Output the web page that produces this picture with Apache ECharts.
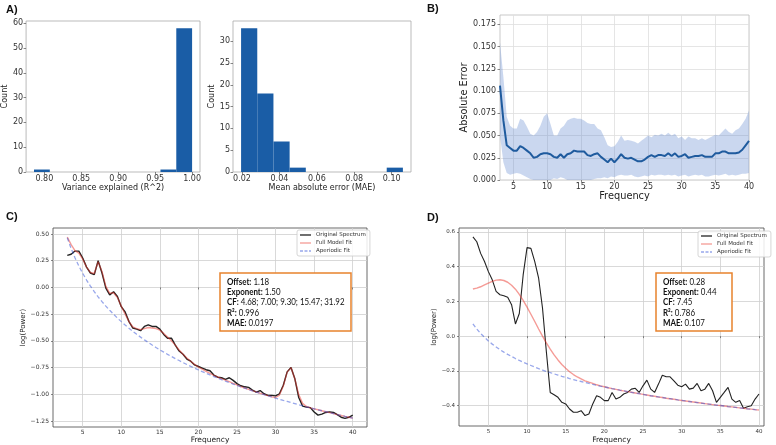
<!DOCTYPE html>
<html><head><meta charset="utf-8">
<script src="https://cdn.jsdelivr.net/npm/echarts@6/dist/echarts.min.js"></script>
<style>html,body{margin:0;padding:0;background:#fff}#c{width:776px;height:445px}</style>
</head><body><div id="c"></div>
<script>
// ---------- Panel A : histograms ----------
const r2BinEdges = [0.786, 0.8074, 0.8288, 0.8502, 0.8716, 0.893, 0.9144, 0.9358, 0.9572, 0.9786, 1.0];
const r2Counts   = [1, 0, 0, 0, 0, 0, 0, 0, 1, 58];
const maeBinEdges = [0.0195, 0.02815, 0.0368, 0.04545, 0.0541, 0.06275, 0.0714, 0.08005, 0.0887, 0.09735, 0.106];
const maeCounts   = [33, 18, 7, 1, 0, 0, 0, 0, 0, 1];
const r2Ticks = [0.80, 0.85, 0.90, 0.95, 1.00];
const r2CountTicks = [0, 10, 20, 30, 40, 50, 60];
const maeTicks = [0.02, 0.04, 0.06, 0.08, 0.10];
const maeCountTicks = [0, 5, 10, 15, 20, 25, 30];

// ---------- shared frequency grid (Hz) ----------
const freqs = [
  3, 3.5, 4, 4.5, 5, 5.5, 6, 6.5, 7, 7.5,
  8, 8.5, 9, 9.5, 10, 10.5, 11, 11.5, 12, 12.5,
  13, 13.5, 14, 14.5, 15, 15.5, 16, 16.5, 17, 17.5,
  18, 18.5, 19, 19.5, 20, 20.5, 21, 21.5, 22, 22.5,
  23, 23.5, 24, 24.5, 25, 25.5, 26, 26.5, 27, 27.5,
  28, 28.5, 29, 29.5, 30, 30.5, 31, 31.5, 32, 32.5,
  33, 33.5, 34, 34.5, 35, 35.5, 36, 36.5, 37, 37.5,
  38, 38.5, 39, 39.5, 40];
const freqTicks = [5, 10, 15, 20, 25, 30, 35, 40];

// ---------- Panel B : absolute error ----------
const errMean = [
  0.106, 0.067, 0.039, 0.036, 0.033, 0.033, 0.038, 0.036, 0.033, 0.030,
  0.025, 0.026, 0.029, 0.030, 0.030, 0.029, 0.026, 0.025, 0.029, 0.025,
  0.029, 0.030, 0.033, 0.032, 0.032, 0.032, 0.028, 0.027, 0.029, 0.030,
  0.026, 0.023, 0.020, 0.024, 0.020, 0.024, 0.029, 0.025, 0.024, 0.025,
  0.023, 0.021, 0.021, 0.023, 0.026, 0.028, 0.026, 0.028, 0.028, 0.027,
  0.030, 0.027, 0.030, 0.026, 0.027, 0.029, 0.025, 0.026, 0.027, 0.027,
  0.028, 0.026, 0.026, 0.026, 0.030, 0.030, 0.032, 0.032, 0.030, 0.030,
  0.030, 0.031, 0.034, 0.039, 0.044];
const errUpper = [
  0.155, 0.116, 0.071, 0.061, 0.058, 0.058, 0.069, 0.067, 0.060, 0.052,
  0.050, 0.054, 0.061, 0.071, 0.075, 0.063, 0.050, 0.050, 0.058, 0.061,
  0.067, 0.069, 0.070, 0.069, 0.069, 0.067, 0.064, 0.063, 0.063, 0.058,
  0.056, 0.048, 0.039, 0.037, 0.038, 0.043, 0.050, 0.044, 0.045, 0.044,
  0.043, 0.041, 0.044, 0.047, 0.050, 0.048, 0.051, 0.050, 0.052, 0.050,
  0.053, 0.050, 0.052, 0.047, 0.049, 0.045, 0.049, 0.047, 0.047, 0.045,
  0.047, 0.045, 0.047, 0.049, 0.051, 0.050, 0.054, 0.058, 0.054, 0.052,
  0.056, 0.058, 0.063, 0.069, 0.078];
const errLower = [
  0.050, 0.020, 0.008, 0.006, 0.007, 0.008, 0.007, 0.005, 0.003, 0.001,
  0.000, 0.000, 0.000, 0.000, 0.000, 0.000, 0.002, 0.001, 0.003, 0.002,
  0.000, 0.000, 0.000, 0.000, 0.000, 0.000, 0.000, 0.000, 0.001, 0.002,
  0.002, 0.003, 0.002, 0.004, 0.003, 0.005, 0.006, 0.005, 0.005, 0.006,
  0.004, 0.003, 0.004, 0.005, 0.004, 0.006, 0.005, 0.006, 0.006, 0.005,
  0.006, 0.005, 0.006, 0.004, 0.005, 0.006, 0.004, 0.005, 0.006, 0.005,
  0.006, 0.004, 0.004, 0.005, 0.006, 0.005, 0.006, 0.007, 0.005, 0.006,
  0.005, 0.006, 0.007, 0.007, 0.008];
const errTicks = [0, 0.025, 0.05, 0.075, 0.1, 0.125, 0.15, 0.175];

// ---------- Panel C : good fit ----------
const cOriginal = [
  0.300, 0.310, 0.340, 0.340, 0.275, 0.190, 0.135, 0.120, 0.250, 0.135,
  -0.006, -0.070, -0.040, -0.085, -0.180, -0.230, -0.320, -0.380, -0.390, -0.405,
  -0.365, -0.350, -0.365, -0.365, -0.390, -0.440, -0.475, -0.475, -0.540, -0.595,
  -0.625, -0.670, -0.690, -0.725, -0.740, -0.755, -0.770, -0.780, -0.820, -0.840,
  -0.845, -0.860, -0.845, -0.870, -0.900, -0.920, -0.930, -0.935, -0.960, -0.980,
  -0.965, -0.995, -1.010, -1.010, -1.015, -0.995, -0.915, -0.790, -0.750, -0.855,
  -1.030, -1.110, -1.120, -1.125, -1.165, -1.195, -1.185, -1.170, -1.165, -1.170,
  -1.190, -1.215, -1.225, -1.215, -1.195];
const cFullFit = [
  0.470, 0.400, 0.345, 0.320, 0.265, 0.190, 0.140, 0.130, 0.240, 0.150,
  0.010, -0.055, -0.050, -0.095, -0.175, -0.250, -0.320, -0.370, -0.385, -0.395,
  -0.385, -0.375, -0.380, -0.385, -0.400, -0.430, -0.465, -0.500, -0.540, -0.585,
  -0.625, -0.660, -0.690, -0.720, -0.745, -0.765, -0.785, -0.805, -0.822, -0.838,
  -0.853, -0.868, -0.882, -0.897, -0.911, -0.928, -0.941, -0.954, -0.966, -0.978,
  -0.990, -1.001, -1.013, -1.024, -1.030, -1.007, -0.923, -0.793, -0.750, -0.857,
  -1.003, -1.085, -1.114, -1.127, -1.136, -1.145, -1.154, -1.163, -1.172, -1.181,
  -1.190, -1.198, -1.207, -1.215, -1.223];
const cAperiodic = [
  0.464, 0.364, 0.277, 0.200, 0.132, 0.069, 0.013, -0.039, -0.088, -0.133,
  -0.175, -0.214, -0.251, -0.287, -0.320, -0.352, -0.382, -0.411, -0.439, -0.465,
  -0.491, -0.515, -0.539, -0.562, -0.584, -0.605, -0.626, -0.646, -0.666, -0.684,
  -0.703, -0.721, -0.738, -0.755, -0.772, -0.788, -0.803, -0.819, -0.834, -0.848,
  -0.863, -0.877, -0.890, -0.904, -0.917, -0.930, -0.942, -0.955, -0.967, -0.979,
  -0.991, -1.002, -1.014, -1.025, -1.036, -1.046, -1.057, -1.067, -1.078, -1.088,
  -1.098, -1.108, -1.117, -1.127, -1.136, -1.145, -1.154, -1.163, -1.172, -1.181,
  -1.190, -1.198, -1.207, -1.215, -1.223];
const cPowerTicks = [-1.25, -1.0, -0.75, -0.5, -0.25, 0, 0.25, 0.5];
const cInfo = [['Offset:', ' 1.18'], ['Exponent:', ' 1.50'], ['CF:', ' 4.68; 7.00; 9.30; 15.47; 31.92'], ['R\u00b2:', ' 0.996'], ['MAE:', ' 0.0197']];

// ---------- Panel D : poor fit ----------
const dOriginal = [
  0.571, 0.543, 0.476, 0.429, 0.371, 0.324, 0.257, 0.238, 0.232, 0.223,
  0.181, 0.070, 0.130, 0.352, 0.509, 0.505, 0.429, 0.333, 0.162, -0.090,
  -0.324, -0.337, -0.352, -0.381, -0.390, -0.419, -0.438, -0.438, -0.429, -0.457,
  -0.448, -0.390, -0.343, -0.352, -0.371, -0.371, -0.324, -0.362, -0.352, -0.333,
  -0.324, -0.305, -0.300, -0.324, -0.286, -0.253, -0.305, -0.324, -0.276, -0.225,
  -0.234, -0.234, -0.257, -0.282, -0.291, -0.276, -0.305, -0.299, -0.272, -0.314,
  -0.305, -0.272, -0.314, -0.381, -0.352, -0.324, -0.295, -0.362, -0.381, -0.371,
  -0.415, -0.406, -0.400, -0.362, -0.333];
const dFullFit = [
  0.271, 0.276, 0.284, 0.295, 0.305, 0.315, 0.322, 0.324, 0.320, 0.310,
  0.293, 0.270, 0.240, 0.206, 0.167, 0.126, 0.084, 0.041, 0.000, -0.039,
  -0.075, -0.108, -0.137, -0.163, -0.185, -0.205, -0.221, -0.235, -0.246, -0.257,
  -0.265, -0.272, -0.280, -0.286, -0.291, -0.297, -0.302, -0.306, -0.311, -0.315,
  -0.319, -0.323, -0.327, -0.331, -0.335, -0.339, -0.343, -0.346, -0.350, -0.353,
  -0.357, -0.360, -0.363, -0.367, -0.370, -0.373, -0.376, -0.379, -0.382, -0.385,
  -0.388, -0.391, -0.394, -0.397, -0.399, -0.402, -0.405, -0.407, -0.410, -0.413,
  -0.415, -0.418, -0.420, -0.423, -0.425];
const dAperiodic = [
  0.070, 0.041, 0.015, -0.007, -0.028, -0.046, -0.062, -0.078, -0.092, -0.105,
  -0.117, -0.129, -0.140, -0.150, -0.160, -0.169, -0.178, -0.187, -0.195, -0.203,
  -0.210, -0.217, -0.224, -0.231, -0.237, -0.244, -0.250, -0.256, -0.261, -0.267,
  -0.272, -0.278, -0.283, -0.288, -0.292, -0.297, -0.302, -0.306, -0.311, -0.315,
  -0.319, -0.323, -0.327, -0.331, -0.335, -0.339, -0.343, -0.346, -0.350, -0.353,
  -0.357, -0.360, -0.363, -0.367, -0.370, -0.373, -0.376, -0.379, -0.382, -0.385,
  -0.388, -0.391, -0.394, -0.397, -0.399, -0.402, -0.405, -0.407, -0.410, -0.413,
  -0.415, -0.418, -0.420, -0.423, -0.425];
const dPowerTicks = [-0.4, -0.2, 0, 0.2, 0.4, 0.6];
const dInfo = [['Offset:', ' 0.28'], ['Exponent:', ' 0.44'], ['CF:', ' 7.45'], ['R\u00b2:', ' 0.786'], ['MAE:', ' 0.107']];

const legendNames = ['Original Spectrum', 'Full Model Fit', 'Aperiodic Fit'];

// ---------- styling helpers ----------
const FONT = 'DejaVu Sans';
const BAR = '#1a5da6';
const ORIG_C = '#222';
const FIT_C = 'rgba(235,55,45,0.5)';
const AP_C = 'rgba(50,80,215,0.5)';
const SOLID_ICON = 'path://M0,0H11V1.3H0Z';
const DASH_ICON = 'path://M0,0H3V1.3H0Z M4.5,0H7.5V1.3H4.5Z M9,0H11V1.3H9Z';
const fmtSigned = d => v => (v < -1e-9 ? '\u2212' : '') + Math.abs(v).toFixed(d);
const pairs = (xs, ys) => xs.map((x, i) => [x, ys[i]]);

function axis(o) {
  return {
    type: 'value', gridIndex: o.grid, min: o.min, max: o.max,
    name: o.name, nameLocation: 'middle', nameGap: o.nameGap,
    nameTextStyle: {fontFamily: FONT, fontSize: o.nameSize, color: '#222'},
    axisLine: {show: false},
    axisTick: {show: true, customValues: o.ticks, length: o.tickLen || 2.5, inside: false,
               lineStyle: {color: o.tickColor || '#555', width: 0.7}},
    axisLabel: {show: true, customValues: o.ticks, formatter: o.fmt, margin: o.margin,
                fontFamily: FONT, fontSize: o.size, color: '#333'},
    splitLine: {show: !!o.split, lineStyle: {color: o.splitColor || '#ddd', width: 0.8}}
  };
}
function hist(edges, counts, idx) {
  return {
    type: 'custom', xAxisIndex: idx, yAxisIndex: idx, silent: true,
    data: counts.map((c, i) => [edges[i], edges[i + 1], c]),
    encode: {x: [0, 1], y: 2},
    renderItem: (params, api) => {
      const p0 = api.coord([api.value(0), api.value(2)]);
      const p1 = api.coord([api.value(1), 0]);
      return {type: 'rect', shape: {x: p0[0], y: p0[1], width: p1[0] - p0[0], height: p1[1] - p0[1]},
              style: {fill: BAR}};
    }
  };
}
function bandSeries() {
  return {
    type: 'custom', xAxisIndex: 2, yAxisIndex: 2, silent: true, z: 1,
    data: freqs.map((f, i) => [f, errLower[i], errUpper[i]]),
    encode: {x: 0, y: [1, 2]},
    renderItem: (params, api) => {
      if (params.dataIndex !== 0) return null;
      const pts = [];
      for (let i = 0; i < freqs.length; i++) pts.push(api.coord([freqs[i], errUpper[i]]));
      for (let i = freqs.length - 1; i >= 0; i--) pts.push(api.coord([freqs[i], errLower[i]]));
      return {type: 'polygon', shape: {points: pts}, style: {fill: 'rgba(95,135,205,0.33)'}};
    }
  };
}
function specLines(idx, orig, fit, ap, origWidth) {
  return [
    {name: 'Original Spectrum', type: 'line', xAxisIndex: idx, yAxisIndex: idx, symbol: 'none',
     data: pairs(freqs, orig), lineStyle: {color: ORIG_C, width: origWidth}, itemStyle: {color: ORIG_C}},
    {name: 'Full Model Fit', type: 'line', xAxisIndex: idx, yAxisIndex: idx, symbol: 'none',
     data: pairs(freqs, fit), lineStyle: {color: FIT_C, width: 1.4}, itemStyle: {color: FIT_C}},
    {name: 'Aperiodic Fit', type: 'line', xAxisIndex: idx, yAxisIndex: idx, symbol: 'none',
     data: pairs(freqs, ap), lineStyle: {color: AP_C, width: 1.3, type: [4, 2.5]}, itemStyle: {color: AP_C}}
  ];
}
function infoBox(x, y, w, h, info) {
  const text = info.map(r => '{b|' + r[0] + '}{n|' + r[1] + '}').join('\n');
  return [
    {type: 'rect', shape: {x: x, y: y, width: w, height: h}, style: {fill: '#fff', stroke: '#e8822d', lineWidth: 1.5}, z: 50},
    {type: 'text', x: x + 7, y: y + 4, scaleX: 0.9, z: 51,
     style: {text: text, fill: '#111',
       rich: {b: {fontFamily: 'Lato', fontWeight: 'bold', fontSize: 8.8, lineHeight: 10.2, fill: '#111'},
              n: {fontFamily: 'Lato', fontSize: 8.8, lineHeight: 10.2, fill: '#111'}}}}
  ];
}
function legend(left, top) {
  return {left: left, top: top, orient: 'vertical', selectedMode: false, symbolKeepAspect: false,
    data: [{name: legendNames[0], icon: SOLID_ICON}, {name: legendNames[1], icon: SOLID_ICON}, {name: legendNames[2], icon: DASH_ICON}],
    itemWidth: 11, itemHeight: 1.3, itemGap: 2, padding: [2, 4, 2, 3],
    textStyle: {fontFamily: FONT, fontSize: 5.5, color: '#333'},
    borderColor: '#ccc', borderWidth: 0.8, borderRadius: 2, backgroundColor: 'rgba(255,255,255,0.85)'};
}
const letter = (x, y, t) => ({type: 'text', x: x, y: y, style: {text: t, fontFamily: 'Liberation Sans', fontWeight: 'bold', fontSize: 11, fill: '#111'}});

const option = {
  animation: false,
  backgroundColor: '#fff',
  grid: [
    {left: 23, top: 21, width: 177, height: 151, show: true, borderColor: '#aaa', borderWidth: 0.8, backgroundColor: 'transparent'},
    {left: 233, top: 21, width: 178, height: 151, show: true, borderColor: '#aaa', borderWidth: 0.8, backgroundColor: 'transparent'},
    {left: 500, top: 15, width: 249, height: 165, show: true, borderColor: '#bbb', borderWidth: 0.8, backgroundColor: 'transparent'},
    {left: 53, top: 228, width: 314, height: 199, show: true, borderColor: '#444', borderWidth: 0.8, backgroundColor: 'transparent'},
    {left: 459, top: 228, width: 305, height: 198, show: true, borderColor: '#444', borderWidth: 0.8, backgroundColor: 'transparent'}
  ],
  xAxis: [
    axis({grid: 0, min: 0.7753, max: 1.0107, ticks: r2Ticks, fmt: v => v.toFixed(2), size: 8, margin: 3,
          name: 'Variance explained (R^2)', nameGap: 12, nameSize: 8}),
    axis({grid: 1, min: 0.01518, max: 0.11033, ticks: maeTicks, fmt: v => v.toFixed(2), size: 8, margin: 3,
          name: 'Mean absolute error (MAE)', nameGap: 12, nameSize: 8}),
    axis({grid: 2, min: 3, max: 40, ticks: freqTicks, fmt: v => String(v), size: 8, margin: 3,
          name: 'Frequency', nameGap: 10, nameSize: 9.8, split: true, splitColor: '#dedede'}),
    axis({grid: 3, min: 1.15, max: 41.85, ticks: freqTicks, fmt: v => String(v), size: 6, margin: 2,
          name: 'Frequency', nameGap: 7, nameSize: 7.5, split: true, splitColor: '#cfcfcf', tickLen: 2}),
    axis({grid: 4, min: 1.2, max: 40.65, ticks: freqTicks, fmt: v => String(v), size: 5.5, margin: 3,
          name: 'Frequency', nameGap: 7, nameSize: 7.5, split: true, splitColor: '#cfcfcf', tickLen: 2})
  ],
  yAxis: [
    axis({grid: 0, min: 0, max: 60.9, ticks: r2CountTicks, fmt: v => String(v), size: 8, margin: 3,
          name: 'Count', nameGap: 14, nameSize: 8}),
    axis({grid: 1, min: 0, max: 34.65, ticks: maeCountTicks, fmt: v => String(v), size: 8, margin: 3,
          name: 'Count', nameGap: 15, nameSize: 8}),
    axis({grid: 2, min: 0, max: 0.1855, ticks: errTicks, fmt: v => v.toFixed(3), size: 8, margin: 4,
          name: 'Absolute Error', nameGap: 29, nameSize: 9.8, split: true, splitColor: '#dedede'}),
    axis({grid: 3, min: -1.306, max: 0.556, ticks: cPowerTicks, fmt: fmtSigned(2), size: 6, margin: 4,
          name: 'log(Power)', nameGap: 21, nameSize: 7, split: true, splitColor: '#cfcfcf', tickLen: 2}),
    axis({grid: 4, min: -0.517, max: 0.622, ticks: dPowerTicks, fmt: fmtSigned(1), size: 5.5, margin: 4,
          name: 'log(Power)', nameGap: 16, nameSize: 7, split: true, splitColor: '#cfcfcf', tickLen: 2})
  ],
  legend: [legend(297, 230), legend(698, 231)],
  series: [
    hist(r2BinEdges, r2Counts, 0),
    hist(maeBinEdges, maeCounts, 1),
    bandSeries(),
    {type: 'line', xAxisIndex: 2, yAxisIndex: 2, symbol: 'none', silent: true, z: 3,
     data: pairs(freqs, errMean), lineStyle: {color: '#1f5b9e', width: 2}},
    ...specLines(3, cOriginal, cFullFit, cAperiodic, 1.4),
    ...specLines(4, dOriginal, dFullFit, dAperiodic, 1.1)
  ],
  graphic: [
    letter(6, 4, 'A)'), letter(427, 3, 'B)'), letter(6, 211, 'C)'), letter(427, 212, 'D)'),
    ...infoBox(220, 273, 131, 58, cInfo),
    ...infoBox(656, 273, 76, 58, dInfo)
  ]
};
const chart = echarts.init(document.getElementById('c'), null, {renderer: 'canvas', width: 776, height: 445});
chart.setOption(option);
</script>
</body></html>
